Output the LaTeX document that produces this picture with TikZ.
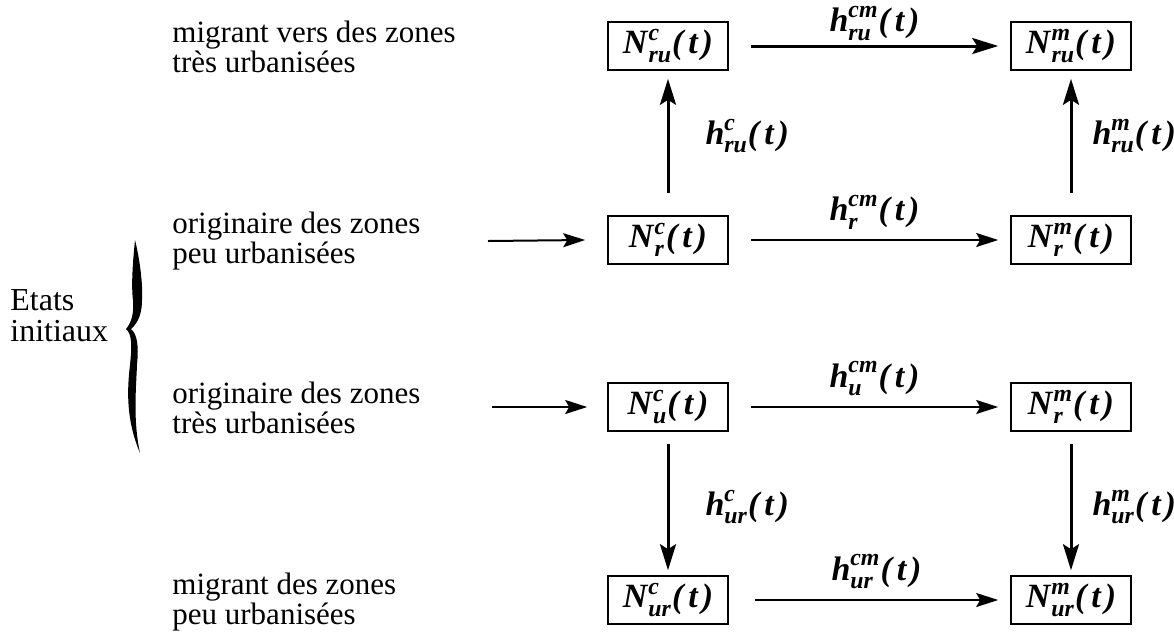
\documentclass[tikz,border=0pt]{standalone}
\usepackage{fontspec}
\usepackage{amsmath}
\setmainfont{Liberation Serif}
\usetikzlibrary{arrows.meta,calc}
\newcommand\bi[1]{\textbf{\textit{#1}}}
\newcommand\qN[3]{$\text{\bi{#1}}^{\text{\bi{#2}}}_{\text{\bi{#3}}}\text{\bi{(}\kern1.5pt\bi{t}\kern1.5pt\bi{)}}$}
\begin{document}
\begin{tikzpicture}[x=0.5pt,y=-0.5pt,
  box/.style={draw, line width=0.8pt, minimum width=60pt, minimum height=24pt, inner sep=2pt, font=\fontsize{17}{18}\selectfont},
  lab/.style={font=\fontsize{17}{18}\selectfont, inner sep=0pt},
  txt/.style={align=left, anchor=west, font=\fontsize{15.5}{12.5}\selectfont, inner sep=0pt},
  arr/.style={line width=1.5pt, -{Stealth[length=13pt,width=8pt,inset=2.5pt]}},
  arrthin/.style={line width=1pt, -{Stealth[length=11pt,width=7pt,inset=2pt]}}]
\useasboundingbox (0,0) rectangle (1174,634);

\node[box] (cru) at (668,46) {\qN{N}{c}{ru}};
\node[box] (mru) at (1071,46) {\qN{N}{m}{ru}};
\node[box] (cr) at (668,240) {\qN{N}{c}{r}};
\node[box] (mr) at (1071,240) {\qN{N}{m}{r}};
\node[box] (cu) at (668,407) {\qN{N}{c}{u}};
\node[box] (mu) at (1071,407) {\qN{N}{m}{r}};
\node[box] (cur) at (668,600) {\qN{N}{c}{ur}};
\node[box] (mur) at (1071,600) {\qN{N}{m}{ur}};

\draw[arr] ([xshift=11pt]cru.east) -- node[lab, above=2pt]{\qN{h}{cm}{ru}} ([xshift=-6pt]mru.west);
\draw[arrthin] ([xshift=11pt]cr.east) -- node[lab, above=5pt]{\qN{h}{cm}{r}} ([xshift=-6pt]mr.west);
\draw[arrthin] ([xshift=11pt]cu.east) -- node[lab, above=5pt]{\qN{h}{cm}{u}} ([xshift=-6pt]mu.west);
\draw[arrthin] ([xshift=13pt]cur.east) -- node[lab, above=5pt]{\qN{h}{cm}{ur}} ([xshift=-6pt]mur.west);

\draw[arr] ([yshift=11pt]cr.north) -- node[lab, right=18pt]{\qN{h}{c}{ru}} ([yshift=-4pt]cru.south);
\draw[arr] ([yshift=11pt]mr.north) -- node[lab, right=10pt]{\qN{h}{m}{ru}} ([yshift=-4pt]mru.south);
\draw[arr] ([yshift=-6pt]cu.south) -- node[lab, right=18pt]{\qN{h}{c}{ur}} ([yshift=2.5pt]cur.north);
\draw[arr] ([yshift=-6pt]mu.south) -- node[lab, right=10pt]{\qN{h}{m}{ur}} ([yshift=2.5pt]mur.north);

\coordinate (in2) at (488,241);
\coordinate (in3) at (492,407);
\draw[arrthin] (in2) -- ([xshift=-11pt]cr.west);
\draw[arrthin] (in3) -- ([xshift=-10pt]cu.west);

\node[txt] (t1) at (172,47) {migrant vers des zones\\très urbanisées};
\node[txt] (t2) at (172,241) {originaire des zones\\peu urbanisées};
\node[txt] (t3) at (172,408) {originaire des zones\\très urbanisées};
\node[txt] (t4) at (172,602) {migrant des zones\\peu urbanisées};
\node[txt, font=\fontsize{16}{15.5}\selectfont] (ei) at (10,316) {Etats\\initiaux};

\fill (135,240) .. controls (133,260) and (131,285) .. (133,300)
  .. controls (134,312) and (132,322) .. (126,329)
  .. controls (132,334) and (132,345) .. (130,365)
  .. controls (127,390) and (126,420) .. (140,453)
  .. controls (133,420) and (136,390) .. (137,365)
  .. controls (139,345) and (137,334) .. (131,329)
  .. controls (139,322) and (142,312) .. (142,300)
  .. controls (143,285) and (140,260) .. (135,240) -- cycle;
\end{tikzpicture}
\end{document}
